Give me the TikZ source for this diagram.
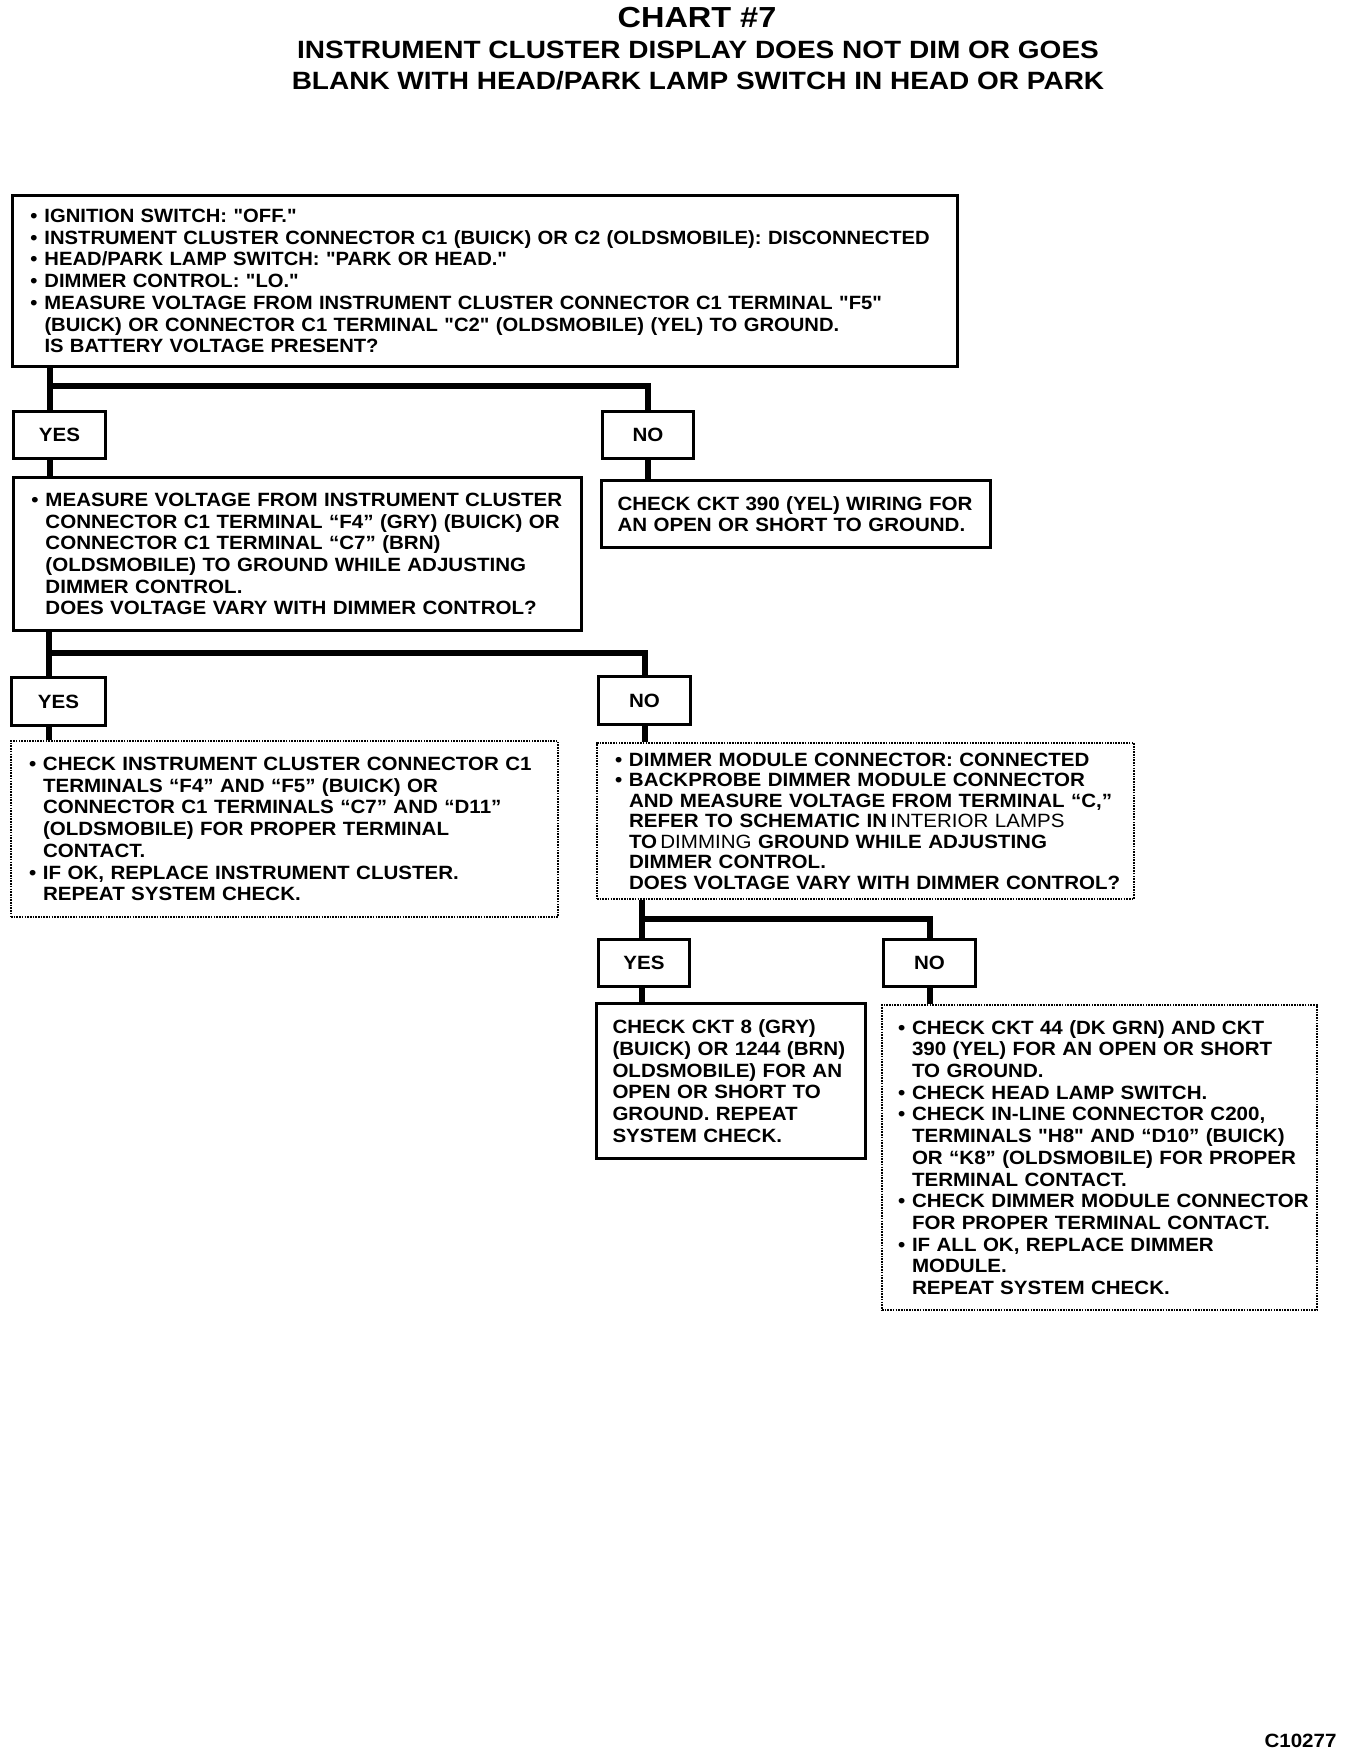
\documentclass[tikz,border=0pt]{standalone}
\usepackage{fontspec}
\newfontfamily\bodyfont{Liberation Sans}[FakeStretch=1.07]
\newfontfamily\narrowfont{Liberation Sans}[FakeStretch=1.053]
\newfontfamily\headfont{Liberation Sans}[FakeStretch=1.12]
\usetikzlibrary{positioning}

\newcommand{\bult}{\hspace*{9pt}\makebox[14pt][l]{\textbullet}}
\newcommand{\indt}{\hspace*{23pt}}

\begin{document}
\begin{tikzpicture}[
  x=1pt, y=-1pt,
  every node/.style={font=\bodyfont\bfseries\fontsize{19.2}{21.7}\selectfont},
  box/.style={rectangle, draw, line width=3pt, anchor=north west,
              align=left, inner xsep=9pt, inner ysep=0pt},
  dbox/.style={box, line width=2pt, dash pattern=on 1.6pt off 1.1pt},
  ans/.style={rectangle, draw, line width=3pt, anchor=north west,
              align=center, inner sep=0pt, minimum height=47pt},
  wire/.style={line width=6pt},
]
  \useasboundingbox (0,0) rectangle (1344,1758);

  \node[font=\headfont\bfseries\fontsize{29}{29}\selectfont] (chart) at (697,18) {CHART \#7};
  \node[font=\headfont\bfseries\fontsize{25}{31}\selectfont, align=center] (title) at (698,65.5)
    {INSTRUMENT CLUSTER DISPLAY DOES NOT DIM OR GOES\\
     BLANK WITH HEAD/PARK LAMP SWITCH IN HEAD OR PARK};

  \node[box, text width=927pt, minimum height=171pt,
        font=\narrowfont\bfseries\fontsize{19.2}{21.7}\selectfont] (start) at (11,194)
    {\bult IGNITION SWITCH: "OFF."\\
     \bult INSTRUMENT CLUSTER CONNECTOR C1 (BUICK) OR C2 (OLDSMOBILE): DISCONNECTED\\
     \bult HEAD/PARK LAMP SWITCH: "PARK OR HEAD."\\
     \bult DIMMER CONTROL: "LO."\\
     \bult MEASURE VOLTAGE FROM INSTRUMENT CLUSTER CONNECTOR C1 TERMINAL "F5"\\
     \indt (BUICK) OR CONNECTOR C1 TERMINAL "C2" (OLDSMOBILE) (YEL) TO GROUND.\\
     \indt IS BATTERY VOLTAGE PRESENT?};

  \node[ans, minimum width=92pt] (yes1) at (12,410) {YES};
  \node[ans, minimum width=91pt] (no1) at (601,410) {NO};

  \node[box, text width=550pt, minimum height=153pt] (meas) at (12,476)
    {\bult MEASURE VOLTAGE FROM INSTRUMENT CLUSTER\\
     \indt CONNECTOR C1 TERMINAL “F4” (GRY) (BUICK) OR\\
     \indt CONNECTOR C1 TERMINAL “C7” (BRN)\\
     \indt (OLDSMOBILE) TO GROUND WHILE ADJUSTING\\
     \indt DIMMER CONTROL.\\
     \indt DOES VOLTAGE VARY WITH DIMMER CONTROL?};
  \node[box, inner xsep=16pt, text width=357pt, minimum height=67pt] (ckt390) at (600,479)
    {CHECK CKT 390 (YEL) WIRING FOR\\
     AN OPEN OR SHORT TO GROUND.};

  \node[ans, minimum width=94pt, minimum height=48pt] (yes2) at (10,676) {YES};
  \node[ans, minimum width=92pt, minimum height=48pt] (no2) at (597,675) {NO};

  \node[dbox, text width=529pt, minimum height=176pt] (clust) at (10,740)
    {\bult CHECK INSTRUMENT CLUSTER CONNECTOR C1\\
     \indt TERMINALS “F4” AND “F5” (BUICK) OR\\
     \indt CONNECTOR C1 TERMINALS “C7” AND “D11”\\
     \indt (OLDSMOBILE) FOR PROPER TERMINAL\\
     \indt CONTACT.\\
     \bult IF OK, REPLACE INSTRUMENT CLUSTER.\\
     \indt REPEAT SYSTEM CHECK.};
  \node[dbox, text width=519pt, minimum height=156pt,
        font=\bodyfont\bfseries\fontsize{19.2}{20.5}\selectfont] (module) at (596,742)
    {\bult DIMMER MODULE CONNECTOR: CONNECTED\\
     \bult BACKPROBE DIMMER MODULE CONNECTOR\\
     \indt AND MEASURE VOLTAGE FROM TERMINAL “C,”\\
     \indt REFER TO SCHEMATIC IN\,{\mdseries INTERIOR LAMPS}\\
     \indt TO\,{\mdseries DIMMING} GROUND WHILE ADJUSTING\\
     \indt DIMMER CONTROL.\\
     \indt DOES VOLTAGE VARY WITH DIMMER CONTROL?};

  \node[ans, minimum width=91pt] (yes3) at (597,938) {YES};
  \node[ans, minimum width=92pt] (no3) at (882,938) {NO};

  \node[box, inner xsep=16pt, text width=237pt, minimum height=155pt] (ckt8) at (595,1002)
    {CHECK CKT 8 (GRY)\\
     (BUICK) OR 1244 (BRN)\\
     OLDSMOBILE) FOR AN\\
     OPEN OR SHORT TO\\
     GROUND. REPEAT\\
     SYSTEM CHECK.};
  \node[dbox, inner xsep=7pt, text width=421pt, minimum height=305pt] (final) at (881,1004)
    {\bult CHECK CKT 44 (DK GRN) AND CKT\\
     \indt 390 (YEL) FOR AN OPEN OR SHORT\\
     \indt TO GROUND.\\
     \bult CHECK HEAD LAMP SWITCH.\\
     \bult CHECK IN-LINE CONNECTOR C200,\\
     \indt TERMINALS "H8" AND “D10” (BUICK)\\
     \indt OR “K8” (OLDSMOBILE) FOR PROPER\\
     \indt TERMINAL CONTACT.\\
     \bult CHECK DIMMER MODULE CONNECTOR\\
     \indt FOR PROPER TERMINAL CONTACT.\\
     \bult IF ALL OK, REPLACE DIMMER\\
     \indt MODULE.\\
     \indt REPEAT SYSTEM CHECK.};

  \node[anchor=east] (code) at (1340,1741) {C10277};

  \coordinate (j1) at (50,386);
  \coordinate (j2) at (49,653);
  \coordinate (j3) at (642,919);

  \draw[wire] (start.south -| j1) -- (yes1.north -| j1);
  \draw[wire] (j1) -| (no1.north);
  \draw[wire] (yes1.south -| j1) -- (meas.north -| j1);
  \draw[wire] (no1.south) -- (no1.south |- ckt390.north);
  \draw[wire] (meas.south -| j2) -- (yes2.north -| j2);
  \draw[wire] (j2) -| (no2.north);
  \draw[wire] (yes2.south -| j2) -- (clust.north -| j2);
  \draw[wire] (no2.south) -- (no2.south |- module.north);
  \draw[wire] (module.south -| j3) -- (yes3.north -| j3);
  \draw[wire] (j3) -| (no3.north);
  \draw[wire] (yes3.south -| j3) -- (ckt8.north -| j3);
  \draw[wire] (no3.south) -- (no3.south |- final.north);

\end{tikzpicture}
\end{document}
